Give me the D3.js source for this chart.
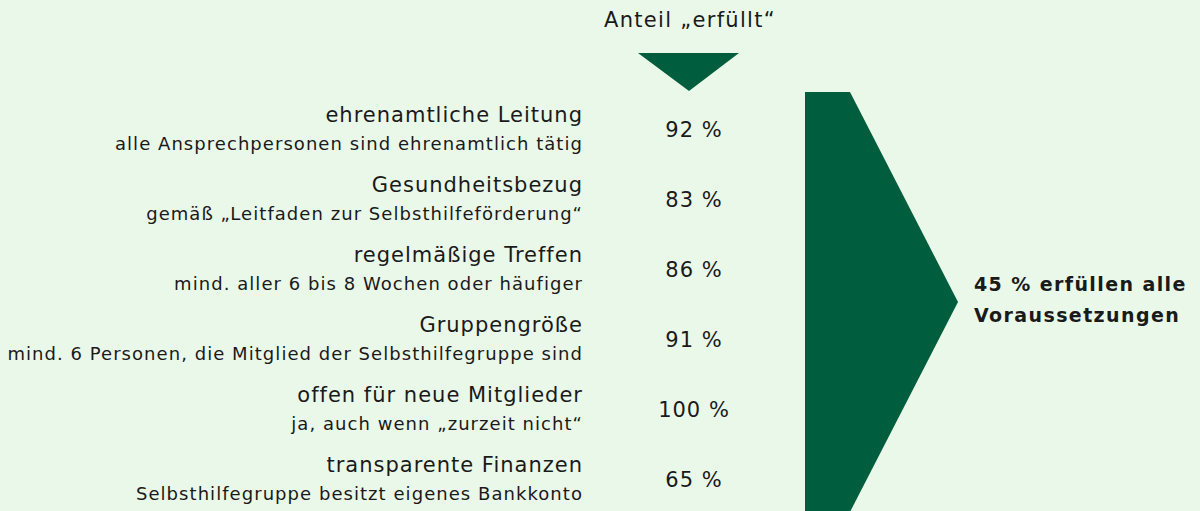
<!DOCTYPE html>
<html>
<head>
<meta charset="utf-8">
<script src="https://cdn.jsdelivr.net/npm/d3@7"></script>
<style>
  html, body { margin: 0; padding: 0; background: #eaf8e9; }
  text { font-family: "DejaVu Sans", sans-serif; fill: #1a1a1a; }
</style>
</head>
<body>
<script>
'use strict';

// criteria, explanations and share of groups that fulfil them
const titles = [
  "ehrenamtliche Leitung",
  "Gesundheitsbezug",
  "regelmäßige Treffen",
  "Gruppengröße",
  "offen für neue Mitglieder",
  "transparente Finanzen"
];
const subtitles = [
  "alle Ansprechpersonen sind ehrenamtlich tätig",
  "gemäß „Leitfaden zur Selbsthilfeförderung“",
  "mind. aller 6 bis 8 Wochen oder häufiger",
  "mind. 6 Personen, die Mitglied der Selbsthilfegruppe sind",
  "ja, auch wenn „zurzeit nicht“",
  "Selbsthilfegruppe besitzt eigenes Bankkonto"
];
const shares = [92, 83, 86, 91, 100, 65];
const allShare = 45;

(function() {
  const width = 1200, height = 511;
  const green = "#005e3e";

  const svg = d3.select('body')
    .append('svg')
    .attr('width', width)
    .attr('height', height);

  // one band per criterion
  const y = d3.scaleBand()
    .domain(d3.range(titles.length))
    .range([95, 515]);

  const rows = svg.selectAll('.row')
    .data(titles)
    .enter()
    .append('g')
    .attr('class', 'row')
    .attr('transform', (d, i) => `translate(0, ${y(i)})`);

  // letter-spacing widens the DejaVu glyphs towards the original typeface
  rows.append('text')
    .attr('x', 583)
    .attr('y', 27)
    .attr('text-anchor', 'end')
    .style('font-size', '21px')
    .style('letter-spacing', '1px')
    .text((d) => d);

  rows.append('text')
    .attr('x', 583)
    .attr('y', 55)
    .attr('text-anchor', 'end')
    .style('font-size', '18px')
    .style('letter-spacing', '1.05px')
    .text((d, i) => subtitles[i]);

  rows.append('text')
    .attr('x', 694)
    .attr('y', 42)
    .attr('text-anchor', 'middle')
    .style('font-size', '21px')
    .style('letter-spacing', '1px')
    .text((d, i) => shares[i] + " %");

  // column header with small arrow
  svg.append('text')
    .attr('x', 690)
    .attr('y', 27)
    .attr('text-anchor', 'middle')
    .style('font-size', '21px')
    .style('letter-spacing', '1.3px')
    .text("Anteil „erfüllt“");

  svg.append('path')
    .attr('d', d3.line()([[638, 53], [739, 53], [689, 91]]))
    .attr('fill', green);

  // big arrow summarising all criteria
  const arrowTop = y(0) - 3, arrowBottom = arrowTop + 420;
  const mid = (arrowTop + arrowBottom) / 2;
  svg.append('path')
    .attr('d', d3.line()([[805, arrowTop], [850, arrowTop], [958, mid],
      [850, arrowBottom], [805, arrowBottom]]))
    .attr('fill', green);

  const summary = svg.append('text')
    .attr('x', 974)
    .attr('y', mid - 11)
    .style('font-size', '19px')
    .style('font-weight', 'bold')
    .style('letter-spacing', '1.4px');
  summary.append('tspan').text(allShare + " % erfüllen alle");
  summary.append('tspan').attr('x', 974).attr('dy', 31).text("Voraussetzungen");
})();
</script>
</body>
</html>
